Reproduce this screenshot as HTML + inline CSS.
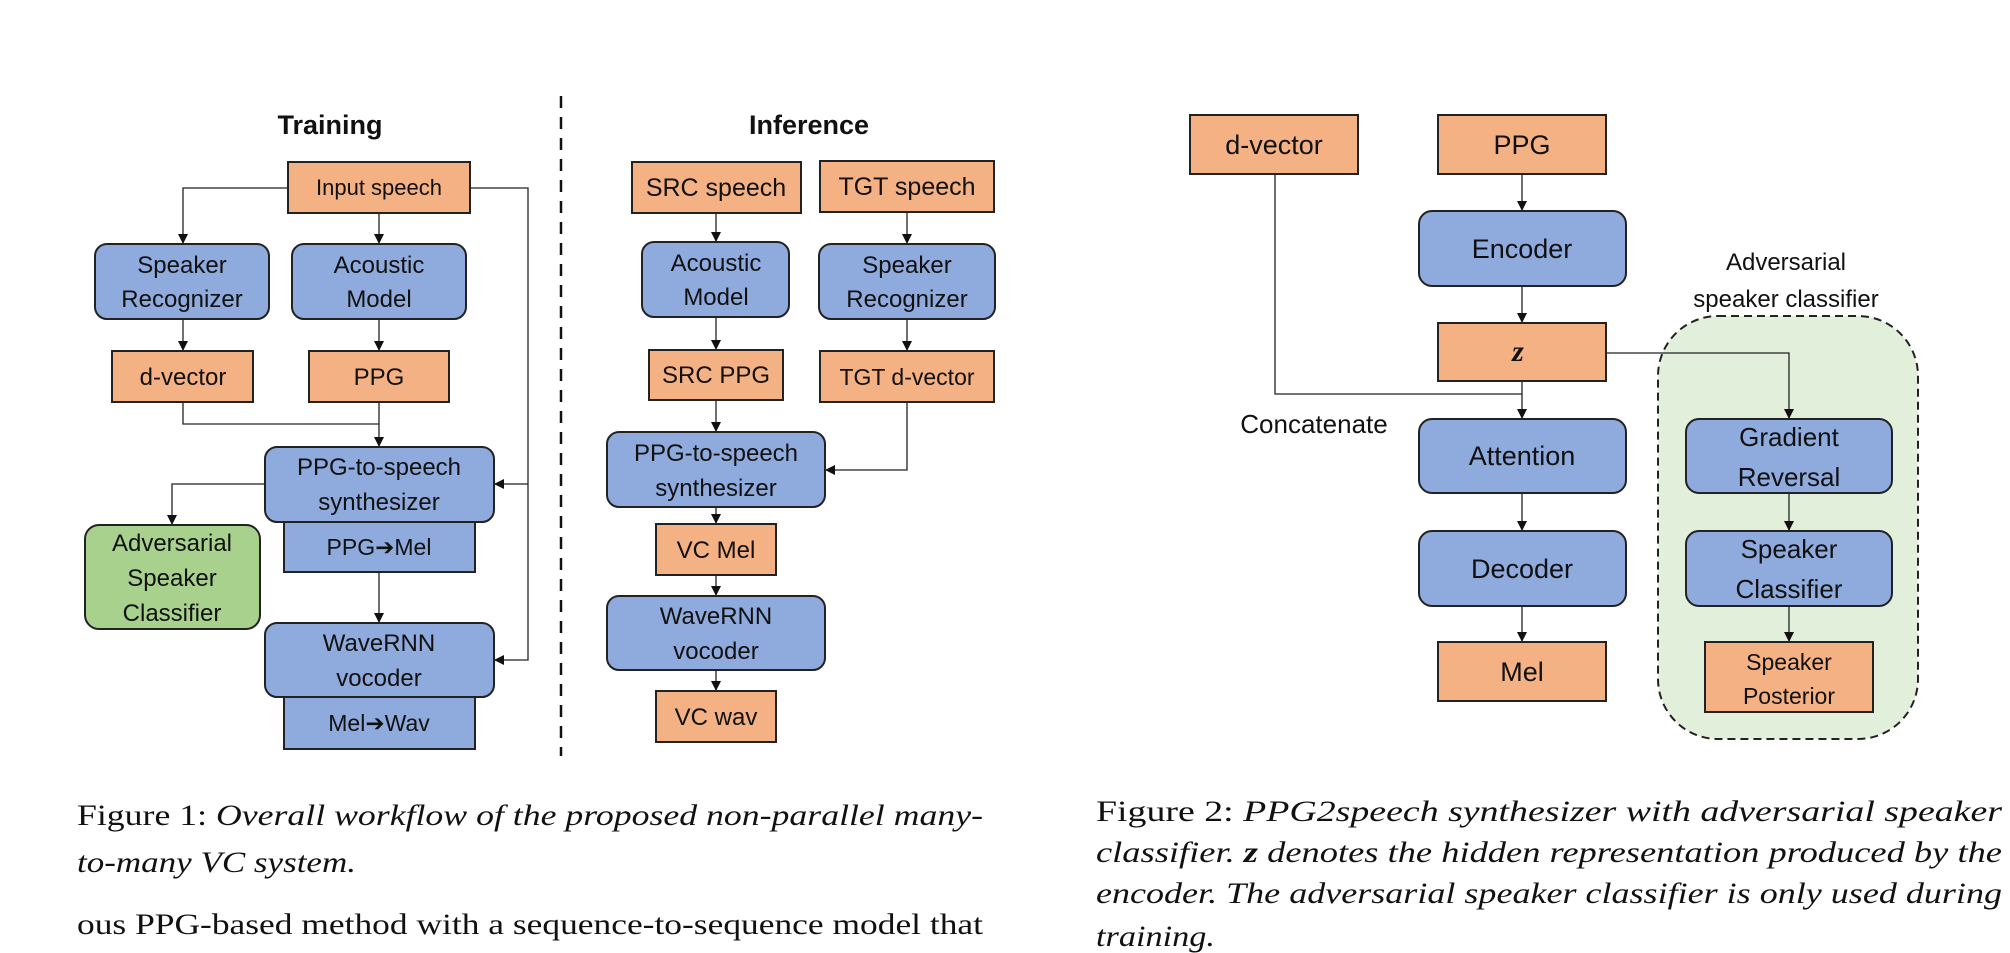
<!DOCTYPE html>
<html><head><meta charset="utf-8"><style>
html,body{margin:0;padding:0;background:#fff}
svg{display:block}
.d{font-family:"Liberation Sans",sans-serif;fill:#111;text-anchor:middle}
.c{font-family:"Liberation Serif",serif;fill:#111;font-size:30px}
.o{fill:#F4B183;stroke:#222;stroke-width:2}
.b{fill:#8FAADC;stroke:#222;stroke-width:2}
.g{fill:#A9D18E;stroke:#222;stroke-width:2}
.l{stroke:#222;stroke-width:1.3;fill:none}
.ar{font-family:"DejaVu Sans",sans-serif;font-weight:bold}
</style></head><body>
<svg width="2010" height="953" viewBox="0 0 2010 953" xmlns="http://www.w3.org/2000/svg">
<defs><marker id="a" markerWidth="10" markerHeight="10" refX="9" refY="5" orient="auto" markerUnits="userSpaceOnUse"><path d="M0,0 L10,5 L0,10 z" fill="#111"/></marker></defs>

<!-- Titles -->
<text class="d" x="330" y="134" font-size="27" font-weight="bold">Training</text>
<text class="d" x="809" y="134" font-size="27" font-weight="bold">Inference</text>
<line x1="561" y1="96" x2="561" y2="756" stroke="#111" stroke-width="2.5" stroke-dasharray="12,9"/>

<!-- Training connectors -->
<path class="l" d="M288,188 H183 V243" marker-end="url(#a)"/>
<path class="l" d="M379,213 V243" marker-end="url(#a)"/>
<path class="l" d="M470,188 H528 V660 H495" marker-end="url(#a)"/>
<path class="l" d="M528,484 H495" marker-end="url(#a)"/>
<path class="l" d="M183,319 V350" marker-end="url(#a)"/>
<path class="l" d="M379,319 V350" marker-end="url(#a)"/>
<path class="l" d="M183,402 V424 H379"/>
<path class="l" d="M379,402 V446" marker-end="url(#a)"/>
<path class="l" d="M265,484 H172 V524" marker-end="url(#a)"/>
<path class="l" d="M379,572 V622" marker-end="url(#a)"/>

<!-- Training boxes -->
<rect class="o" x="288" y="162" width="182" height="51"/>
<text class="d" x="379" y="195" font-size="22">Input speech</text>
<rect class="b" x="95" y="244" width="174" height="75" rx="12"/>
<text class="d" x="182" y="273" font-size="24">Speaker</text>
<text class="d" x="182" y="307" font-size="24">Recognizer</text>
<rect class="b" x="292" y="244" width="174" height="75" rx="12"/>
<text class="d" x="379" y="273" font-size="24">Acoustic</text>
<text class="d" x="379" y="307" font-size="24">Model</text>
<rect class="o" x="112" y="351" width="141" height="51"/>
<text class="d" x="183" y="385" font-size="24">d-vector</text>
<rect class="o" x="309" y="351" width="140" height="51"/>
<text class="d" x="379" y="385" font-size="24">PPG</text>
<rect class="b" x="284" y="520" width="191" height="52"/>
<text class="d" x="379" y="555" font-size="23">PPG<tspan class="ar">➔</tspan>Mel</text>
<rect class="b" x="265" y="447" width="229" height="75" rx="12"/>
<text class="d" x="379" y="475" font-size="24">PPG-to-speech</text>
<text class="d" x="379" y="510" font-size="24">synthesizer</text>
<rect class="g" x="85" y="525" width="175" height="104" rx="14"/>
<text class="d" x="172" y="551" font-size="24">Adversarial</text>
<text class="d" x="172" y="586" font-size="24">Speaker</text>
<text class="d" x="172" y="621" font-size="24">Classifier</text>
<rect class="b" x="284" y="695" width="191" height="54"/>
<text class="d" x="379" y="731" font-size="23">Mel<tspan class="ar">➔</tspan>Wav</text>
<rect class="b" x="265" y="623" width="229" height="74" rx="12"/>
<text class="d" x="379" y="651" font-size="24">WaveRNN</text>
<text class="d" x="379" y="686" font-size="24">vocoder</text>

<!-- Inference connectors -->
<path class="l" d="M716,213 V241" marker-end="url(#a)"/>
<path class="l" d="M907,212 V243" marker-end="url(#a)"/>
<path class="l" d="M716,317 V349" marker-end="url(#a)"/>
<path class="l" d="M907,319 V350" marker-end="url(#a)"/>
<path class="l" d="M716,400 V431" marker-end="url(#a)"/>
<path class="l" d="M907,402 V470 H826" marker-end="url(#a)"/>
<path class="l" d="M716,507 V523" marker-end="url(#a)"/>
<path class="l" d="M716,575 V595" marker-end="url(#a)"/>
<path class="l" d="M716,670 V690" marker-end="url(#a)"/>

<!-- Inference boxes -->
<rect class="o" x="632" y="162" width="169" height="51"/>
<text class="d" x="716" y="196" font-size="25">SRC speech</text>
<rect class="o" x="820" y="161" width="174" height="51"/>
<text class="d" x="907" y="195" font-size="25">TGT speech</text>
<rect class="b" x="642" y="242" width="147" height="75" rx="12"/>
<text class="d" x="716" y="271" font-size="24">Acoustic</text>
<text class="d" x="716" y="305" font-size="24">Model</text>
<rect class="b" x="819" y="244" width="176" height="75" rx="12"/>
<text class="d" x="907" y="273" font-size="24">Speaker</text>
<text class="d" x="907" y="307" font-size="24">Recognizer</text>
<rect class="o" x="649" y="350" width="134" height="50"/>
<text class="d" x="716" y="383" font-size="24">SRC PPG</text>
<rect class="o" x="820" y="351" width="174" height="51"/>
<text class="d" x="907" y="385" font-size="23">TGT d-vector</text>
<rect class="b" x="607" y="432" width="218" height="75" rx="12"/>
<text class="d" x="716" y="461" font-size="24">PPG-to-speech</text>
<text class="d" x="716" y="496" font-size="24">synthesizer</text>
<rect class="o" x="656" y="524" width="120" height="51"/>
<text class="d" x="716" y="558" font-size="24">VC Mel</text>
<rect class="b" x="607" y="596" width="218" height="74" rx="12"/>
<text class="d" x="716" y="624" font-size="24">WaveRNN</text>
<text class="d" x="716" y="659" font-size="24">vocoder</text>
<rect class="o" x="656" y="691" width="120" height="51"/>
<text class="d" x="716" y="725" font-size="24">VC wav</text>

<!-- Figure 2 -->
<rect x="1658" y="316" width="260" height="423" rx="60" fill="#E2EFDA" stroke="#222" stroke-width="2" stroke-dasharray="8,5"/>
<text class="d" x="1786" y="270" font-size="24">Adversarial</text>
<text class="d" x="1786" y="307" font-size="24">speaker classifier</text>

<path class="l" d="M1522,174 V210" marker-end="url(#a)"/>
<path class="l" d="M1522,286 V322" marker-end="url(#a)"/>
<path class="l" d="M1275,174 V394 H1522"/>
<path class="l" d="M1522,381 V418" marker-end="url(#a)"/>
<path class="l" d="M1606,353 H1789 V418" marker-end="url(#a)"/>
<path class="l" d="M1522,493 V530" marker-end="url(#a)"/>
<path class="l" d="M1522,606 V641" marker-end="url(#a)"/>
<path class="l" d="M1789,493 V530" marker-end="url(#a)"/>
<path class="l" d="M1789,606 V641" marker-end="url(#a)"/>

<rect class="o" x="1190" y="115" width="168" height="59"/>
<text class="d" x="1274" y="154" font-size="27">d-vector</text>
<rect class="o" x="1438" y="115" width="168" height="59"/>
<text class="d" x="1522" y="154" font-size="27">PPG</text>
<rect class="b" x="1419" y="211" width="207" height="75" rx="13"/>
<text class="d" x="1522" y="258" font-size="27">Encoder</text>
<rect class="o" x="1438" y="323" width="168" height="58"/>
<text x="1518" y="361" font-family="Liberation Serif,serif" font-size="30" font-weight="bold" font-style="italic" text-anchor="middle" fill="#111">z</text>
<text x="1314" y="433" font-family="Liberation Sans,sans-serif" font-size="26" text-anchor="middle" fill="#111">Concatenate</text>
<rect class="b" x="1419" y="419" width="207" height="74" rx="13"/>
<text class="d" x="1522" y="465" font-size="27">Attention</text>
<rect class="b" x="1419" y="531" width="207" height="75" rx="13"/>
<text class="d" x="1522" y="578" font-size="27">Decoder</text>
<rect class="o" x="1438" y="642" width="168" height="59"/>
<text class="d" x="1522" y="681" font-size="27">Mel</text>
<rect class="b" x="1686" y="419" width="206" height="74" rx="13"/>
<text class="d" x="1789" y="446" font-size="26">Gradient</text>
<text class="d" x="1789" y="486" font-size="26">Reversal</text>
<rect class="b" x="1686" y="531" width="206" height="75" rx="13"/>
<text class="d" x="1789" y="558" font-size="26">Speaker</text>
<text class="d" x="1789" y="598" font-size="26">Classifier</text>
<rect class="o" x="1705" y="642" width="168" height="70"/>
<text class="d" x="1789" y="670" font-size="23">Speaker</text>
<text class="d" x="1789" y="704" font-size="23">Posterior</text>

<!-- Captions -->
<text class="c" x="77" y="825" textLength="906" lengthAdjust="spacingAndGlyphs">Figure 1: <tspan font-style="italic">Overall workflow of the proposed non-parallel many-</tspan></text>
<text class="c" x="77" y="872" textLength="279" lengthAdjust="spacingAndGlyphs" font-style="italic">to-many VC system.</text>
<text class="c" x="77" y="934" textLength="906" lengthAdjust="spacingAndGlyphs">ous PPG-based method with a sequence-to-sequence model that</text>
<text class="c" x="1096" y="821" textLength="906" lengthAdjust="spacingAndGlyphs">Figure 2:  <tspan font-style="italic">PPG2speech synthesizer with adversarial speaker</tspan></text>
<text class="c" x="1096" y="862" textLength="906" lengthAdjust="spacingAndGlyphs" font-style="italic">classifier. <tspan font-weight="bold">z</tspan> denotes the hidden representation produced by the</text>
<text class="c" x="1096" y="903" textLength="906" lengthAdjust="spacingAndGlyphs" font-style="italic">encoder. The adversarial speaker classifier is only used during</text>
<text class="c" x="1096" y="946" textLength="119" lengthAdjust="spacingAndGlyphs" font-style="italic">training.</text>
</svg>
</body></html>
